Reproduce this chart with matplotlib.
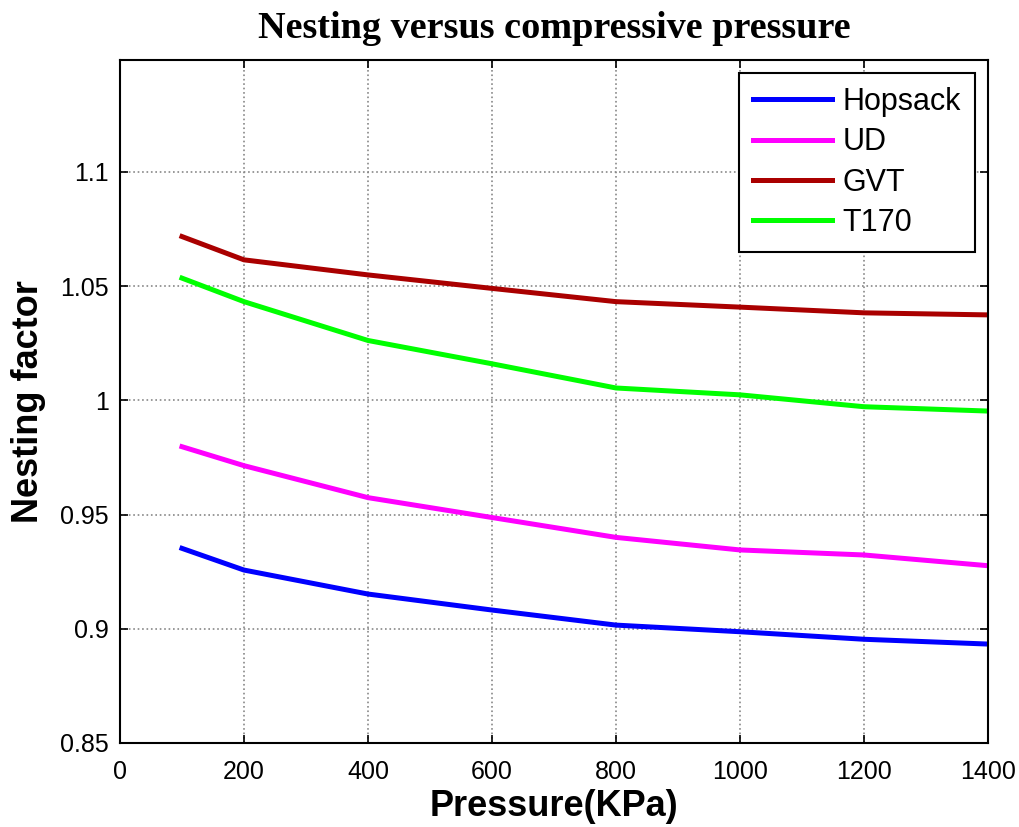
import matplotlib.pyplot as plt
import numpy as np

# pressure steps (KPa)
pressure = [100, 200, 400, 600, 800, 1000, 1200, 1400]

# nesting factor for each fabric
hopsack = [0.9352, 0.9257, 0.9152, 0.9082, 0.9016, 0.8987, 0.8954, 0.8933]
ud = [0.9797, 0.9714, 0.9574, 0.9487, 0.9400, 0.9345, 0.9323, 0.9276]
gvt = [1.0717, 1.0615, 1.0549, 1.0490, 1.0432, 1.0408, 1.0383, 1.0374]
t170 = [1.0535, 1.0432, 1.0262, 1.0160, 1.0054, 1.0024, 0.9972, 0.9953]

xticks = np.arange(0, 1401, 200)
yticks = [0.85, 0.9, 0.95, 1.0, 1.05, 1.1]
yticklabels = ['0.85', '0.9', '0.95', '1', '1.05', '1.1']

fig = plt.figure(figsize=(10.2, 8.27), dpi=100)
ax = fig.add_axes([0.1176, 0.1016, 0.851, 0.8259])

lw = 3.6
ax.plot(pressure, hopsack, color='#0000ff', lw=lw, label='Hopsack')
ax.plot(pressure, ud, color='#ff00ff', lw=lw, label='UD')
ax.plot(pressure, gvt, color='#aa0000', lw=lw, label='GVT')
ax.plot(pressure, t170, color='#00ff00', lw=lw, label='T170')

ax.set_xlim(0, 1400)
ax.set_ylim(0.85, 1.149)
ax.set_xticks(xticks)
ax.set_yticks(yticks)
ax.set_yticklabels(yticklabels)

# matlab style: inward ticks on all four sides, dotted grid
ax.tick_params(direction='in', top=True, right=True, length=6, width=1.2,
               labelsize=18)
ax.tick_params(axis='x', pad=12)
ax.tick_params(axis='y', pad=8)
for lab in ax.get_xticklabels() + ax.get_yticklabels():
    lab.set_family('Liberation Sans')
ax.grid(True, color='#888888', linestyle=':', linewidth=1.2)
for s in ax.spines.values():
    s.set_linewidth(1.5)

ax.set_title('Nesting versus compressive pressure', fontsize=27.5,
             fontweight='bold', family='Liberation Serif', pad=16)
ax.set_xlabel('Pressure(KPa)', fontsize=26, fontweight='bold',
              family='Liberation Sans', labelpad=4)
ax.set_ylabel('Nesting factor', fontsize=26, fontweight='bold',
              family='Liberation Sans', labelpad=10)

leg = ax.legend(loc='upper right', fancybox=False, framealpha=1,
                edgecolor='black', prop={'family': 'Liberation Sans', 'size': 22},
                handlelength=2.6, handletextpad=0.35, labelspacing=0.34,
                borderaxespad=0.43, borderpad=0.45)
leg.get_frame().set_linewidth(1.5)

fig.savefig('out.png', dpi=100)
